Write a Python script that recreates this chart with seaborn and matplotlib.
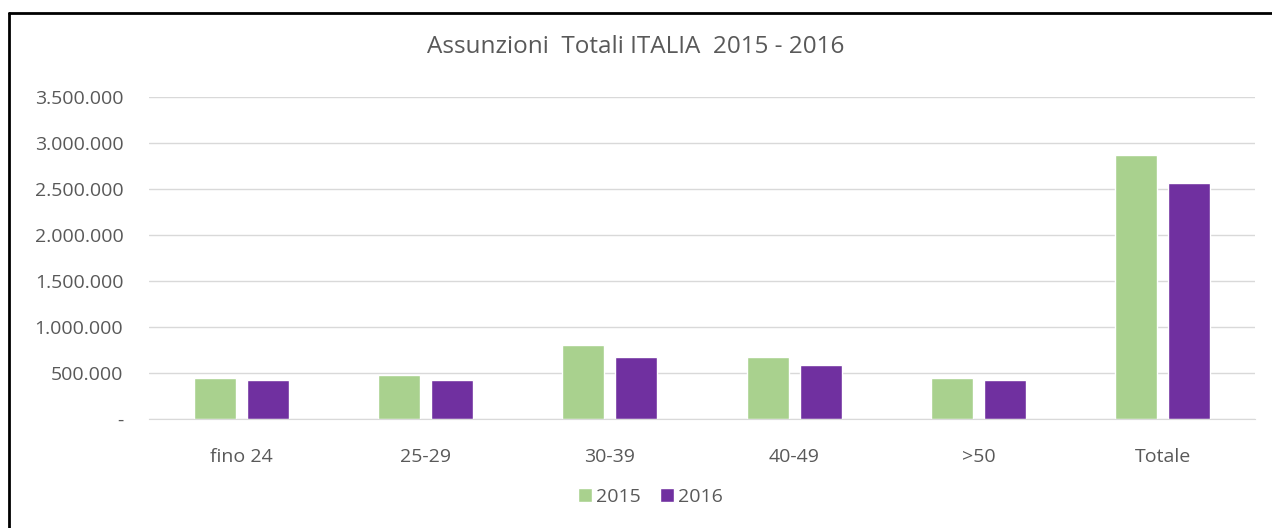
import pandas as pd
import matplotlib.pyplot as plt
import seaborn as sns
from matplotlib.lines import Line2D
from matplotlib.ticker import FuncFormatter

# -----------------------------
# Data
# -----------------------------
categories = ["fino 24", "25-29", "30-39", "40-49", ">50", "Totale"]
values_2015 = [443000, 475000, 805000, 675000, 443000, 2870000]
values_2016 = [425000, 427000, 675000, 592000, 425000, 2560000]
years = ["2015", "2016"]
colors = ["#a9d18e", "#7030a0"]

df = pd.DataFrame({
    "fascia": categories * 2,
    "anno": [years[0]] * len(categories) + [years[1]] * len(categories),
    "assunzioni": values_2015 + values_2016,
})

# style
sns.set_style("white")
plt.rcParams["font.family"] = ["Open Sans", "DejaVu Sans"]
grey = "#595959"

fig = plt.figure(figsize=(12.72, 5.28), dpi=100)
ax = fig.add_axes([149 / 1272, 1 - 419 / 528, 1106 / 1272, 322 / 528])

sns.barplot(data=df, x="fascia", y="assunzioni", hue="anno",
            palette=colors, width=0.576, gap=0.208, ax=ax,
            saturation=1, legend=True)

ax.set_ylim(0, 3500000)
ax.set_xlim(-0.5, 5.5)
ax.set_yticks(range(0, 3500001, 500000))
ax.yaxis.grid(True, color="#d9d9d9", linewidth=1)
ax.set_axisbelow(True)


def fmt(v, pos):
    if v == 0:
        return "-"
    return f"{int(v):,}".replace(",", ".")


ax.yaxis.set_major_formatter(FuncFormatter(fmt))
ax.tick_params(axis="y", length=0, pad=18.5, labelsize=14, labelcolor=grey)
ax.tick_params(axis="x", length=0, pad=21, labelsize=14, labelcolor=grey)
ax.set_xlabel("")
ax.set_ylabel("")
for side in ["top", "right", "left"]:
    ax.spines[side].set_visible(False)
ax.spines["bottom"].set_color("#d9d9d9")

# title centred on the whole picture
fig.text(0.5, 1 - 47 / 528, "Assunzioni  Totali ITALIA  2015 - 2016",
         fontsize=17.5, color=grey, ha="center", va="center")

ax.legend_.remove()
handles, labels = ax.get_legend_handles_labels()
leg = fig.legend(handles, labels, loc="center",
                 bbox_to_anchor=(650.5 / 1272, 1 - 497 / 528), ncol=2,
                 frameon=False, fontsize=14, handlelength=0.7,
                 handleheight=0.7, handletextpad=0.2, columnspacing=1.0)
for t in leg.get_texts():
    t.set_color(grey)

# frame (only top and left visible in the screenshot)
fig.add_artist(Line2D([8.5 / 1272, 1], [1 - 13 / 528, 1 - 13 / 528],
                      transform=fig.transFigure, color="black", linewidth=2))
fig.add_artist(Line2D([8.5 / 1272, 8.5 / 1272], [0, 1 - 13 / 528],
                      transform=fig.transFigure, color="black", linewidth=2))

plt.savefig("out.png", dpi=100)
